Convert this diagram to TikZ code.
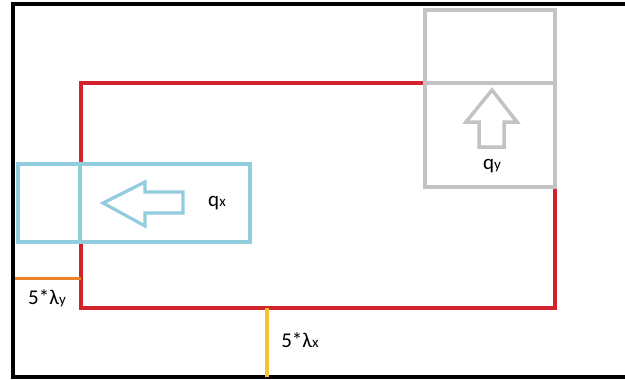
\documentclass[tikz,border=0pt]{standalone}
\usepackage{fontspec}
\setmainfont{Carlito}
\begin{document}
\begin{tikzpicture}[x=1pt,y=-1pt,
  frame/.style={line width=3.6pt,black},
  redline/.style={line width=4pt,draw={rgb,255:red,210;green,35;blue,45}},
  graybox/.style={line width=4pt,draw={rgb,255:red,195;green,195;blue,195},fill=white},
  bluebox/.style={line width=3.2pt,draw={rgb,255:red,145;green,205;blue,220},fill=white},
  grayarrow/.style={line width=3.5pt,draw={rgb,255:red,195;green,195;blue,195},line join=miter},
  bluearrow/.style={line width=3.2pt,draw={rgb,255:red,145;green,205;blue,220},line join=miter},
  orangeline/.style={line width=3pt,draw={rgb,255:red,235;green,130;blue,40}},
  yellowline/.style={line width=4pt,draw={rgb,255:red,245;green,195;blue,50}},
  lbl/.style={font=\fontsize{21}{24}\selectfont,inner sep=0pt},
  sub/.style={}]
\useasboundingbox (0,0) rectangle (625,380);
% frame
\coordinate (ftr) at (625,4);
\coordinate (ftl) at (13,4);
\coordinate (fbl) at (13,377);
\coordinate (fbr) at (625,377);
\draw[frame] (ftr) -- (ftl) -- (fbl) -- (fbr);
% red path
\coordinate (r1) at (425,83);
\coordinate (r2) at (81,83);
\coordinate (r3) at (81,308);
\coordinate (r4) at (555,308);
\coordinate (r5) at (555,187);
\draw[redline] (r1) -- (r2) -- (r3) -- (r4) -- (r5);
% gray box
\coordinate (g1) at (425,10);
\coordinate (g2) at (555,187);
\coordinate (gd1) at (425,83);
\coordinate (gd2) at (555,83);
\draw[graybox] (g1) rectangle (g2);
\draw[graybox] (gd1) -- (gd2);
\draw[grayarrow] (492,90) -- (517,122) -- (504,122) -- (504,147) -- (479,147) -- (479,122) -- (466,122) -- cycle;
\node[lbl] (qy) at (492,166) {q{\fontsize{15}{16}\selectfont y}};
% blue box
\coordinate (b1) at (18,164);
\coordinate (b2) at (250,242);
\coordinate (bd1) at (80,164);
\coordinate (bd2) at (80,242);
\draw[bluebox] (b1) rectangle (b2);
\draw[bluebox] (bd1) -- (bd2);
\draw[bluearrow] (103,203) -- (145,182) -- (145,192) -- (183,192) -- (183,213) -- (145,213) -- (145,226) -- cycle;
\node[lbl] (qx) at (217,203) {q{\fontsize{15}{16}\selectfont x}};
% lambda lines
\coordinate (o1) at (15,278);
\coordinate (o2) at (81,278);
\draw[orangeline] (o1) -- (o2);
\coordinate (y1) at (267,308);
\coordinate (y2) at (267,377);
\draw[yellowline] (y1) -- (y2);
\node[lbl] (ly) at (47,298) {5*λ{\fontsize{15}{16}\selectfont y}};
\node[lbl] (lx) at (300,340) {5*λ{\fontsize{15}{16}\selectfont x}};
\end{tikzpicture}
\end{document}
